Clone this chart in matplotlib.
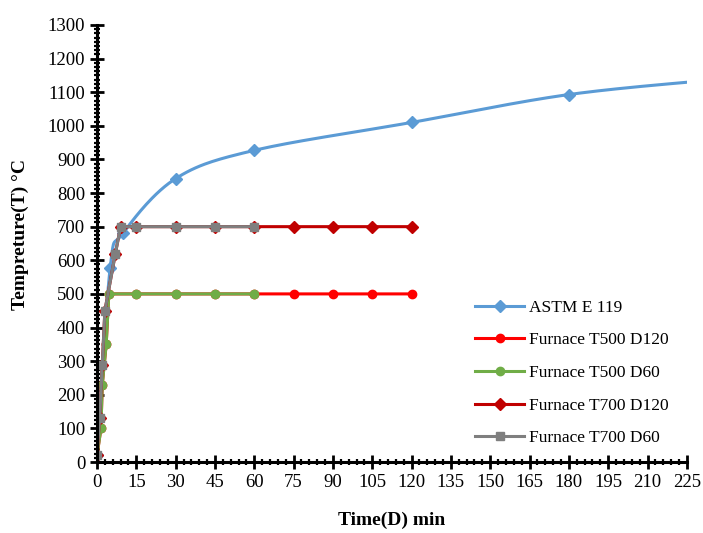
import numpy as np
import matplotlib
matplotlib.use('Agg')
import matplotlib.pyplot as plt
from matplotlib.ticker import MultipleLocator

plt.rcParams['font.family'] = ['Liberation Serif', 'DejaVu Serif']

# ASTM E 119 standard curve
astm_t = [0, 5, 10, 30, 60, 120, 180, 240]
astm_T = [20, 576, 681, 843, 927, 1010, 1093, 1140]

# furnace curves
t500_t = [0, 1.5, 2, 3.5, 4.5, 15, 30, 45, 60, 75, 90, 105, 120]
t500_T = [20, 100, 230, 350, 500, 500, 500, 500, 500, 500, 500, 500, 500]
t500_d60_n = 9  # points used by the 60 min run

t700_t = [0, 1, 2, 3, 7, 9, 15, 30, 45, 60, 75, 90, 105, 120]
t700_T = [20, 130, 290, 450, 620, 700, 700, 700, 700, 700, 700, 700, 700, 700]
t700_d60_n = 10

labels = ['ASTM E 119', 'Furnace T500 D120', 'Furnace T500 D60',
          'Furnace T700 D120', 'Furnace T700 D60']


def smooth(x, y, n=30):
    # catmull-rom like the spreadsheet "smoothed line"
    x = np.asarray(x, float)
    y = np.asarray(y, float)
    xs, ys = [], []
    for i in range(len(x) - 1):
        i0 = max(i - 1, 0)
        i3 = min(i + 2, len(x) - 1)
        p0 = np.array([x[i0], y[i0]])
        p1 = np.array([x[i], y[i]])
        p2 = np.array([x[i + 1], y[i + 1]])
        p3 = np.array([x[i3], y[i3]])
        c1 = p1 + (p2 - p0) / 6
        c2 = p2 - (p3 - p1) / 6
        s = np.linspace(0, 1, n)[:, None]
        b = ((1 - s) ** 3) * p1 + 3 * ((1 - s) ** 2) * s * c1 + 3 * (1 - s) * s ** 2 * c2 + s ** 3 * p2
        xs.extend(b[:, 0])
        ys.extend(b[:, 1])
    return xs, ys


fig = plt.figure(figsize=(7.03, 5.33), dpi=100)
ax = fig.add_axes([0.138, 0.1332, 0.839, 0.82])

sx, sy = smooth(astm_t, astm_T)
ax.plot(sx, sy, color='#5B9BD5', lw=2.2)
ax.plot(astm_t, astm_T, ls='none', marker='D', ms=6, color='#5B9BD5')

ax.plot(t500_t, t500_T, color='#FF0000', lw=2.2, marker='o', ms=6)
ax.plot(t500_t[:t500_d60_n], t500_T[:t500_d60_n], color='#70AD47', lw=2.2, marker='o', ms=6)
ax.plot(t700_t, t700_T, color='#C00000', lw=2.2, marker='D', ms=6)
ax.plot(t700_t[:t700_d60_n], t700_T[:t700_d60_n], color='#7F7F7F', lw=2.2, marker='s', ms=6)

# legend handles
handles = [
    plt.Line2D([], [], color='#5B9BD5', lw=2.2, marker='D', ms=6),
    plt.Line2D([], [], color='#FF0000', lw=2.2, marker='o', ms=6),
    plt.Line2D([], [], color='#70AD47', lw=2.2, marker='o', ms=6),
    plt.Line2D([], [], color='#C00000', lw=2.2, marker='D', ms=6),
    plt.Line2D([], [], color='#7F7F7F', lw=2.2, marker='s', ms=6),
]
ax.legend(handles, labels, loc='lower right', bbox_to_anchor=(0.996, 0.0),
          frameon=False, fontsize=12.5, handlelength=2.8, labelspacing=0.95,
          handletextpad=0.3)

ax.set_xlim(0, 225)
ax.set_ylim(0, 1300)
ax.xaxis.set_major_locator(MultipleLocator(15))
ax.xaxis.set_minor_locator(MultipleLocator(3))
ax.yaxis.set_major_locator(MultipleLocator(100))
ax.yaxis.set_minor_locator(MultipleLocator(12.5))

for s in ['top', 'right']:
    ax.spines[s].set_visible(False)
for s in ['left', 'bottom']:
    ax.spines[s].set_linewidth(2.2)

ax.tick_params(which='major', direction='inout', length=10, width=2, labelsize=13.5)
ax.tick_params(which='minor', direction='inout', length=5, width=1.6)

ax.set_xlabel('Time(D) min', fontsize=14, fontweight='bold', labelpad=15)
ax.set_ylabel('Tempreture(T) \u00b0C', fontsize=14, fontweight='bold')
ax.yaxis.set_label_coords(-0.115, 0.52)

plt.savefig('out.png', dpi=100)
